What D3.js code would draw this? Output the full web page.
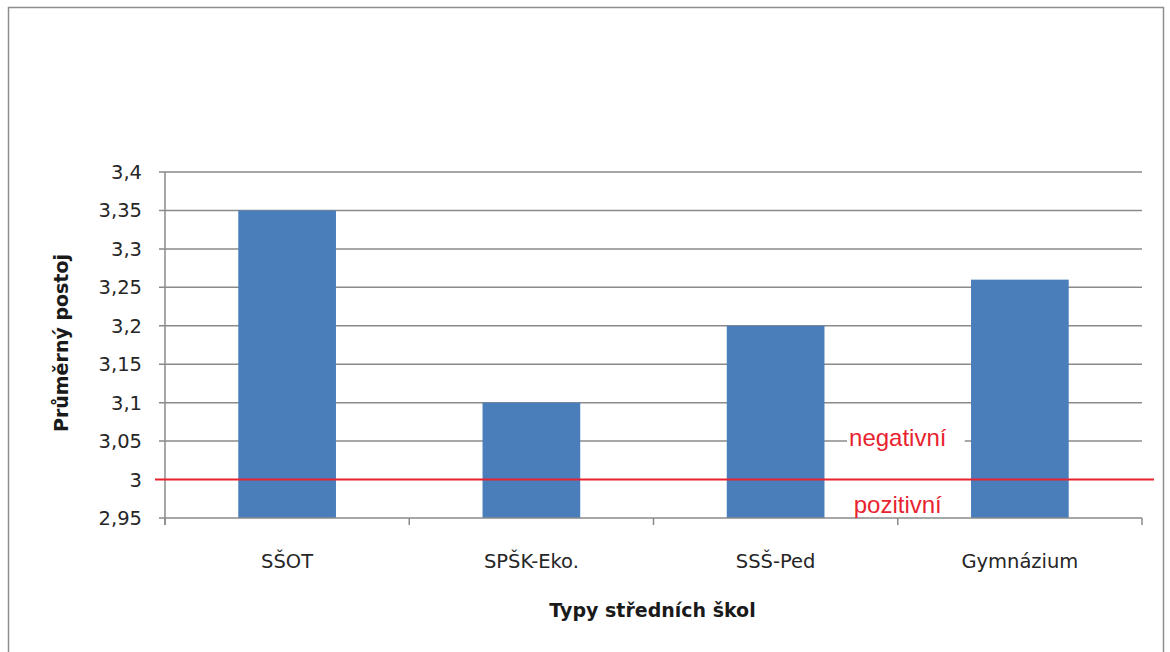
<!DOCTYPE html>
<html>
<head>
<meta charset="utf-8">
<script src="https://cdn.jsdelivr.net/npm/d3@7"></script>
<style>
  body { margin: 0; background: #fff; }
  svg { display: block; }
  .tick-label { font-family: "DejaVu Sans", sans-serif; font-size: 19.5px; fill: #262626; }
  .axis-title { font-family: "DejaVu Sans", sans-serif; font-size: 19px; font-weight: bold; fill: #1a1a1a; }
  .zone-label { font-family: "Liberation Sans", Arial, sans-serif; font-size: 24px; fill: #e8232f; }
</style>
</head>
<body>
<svg id="chart" width="1170" height="652"></svg>
<script>
// school types and their average attitude
const categories = ['SŠOT', 'SPŠK-Eko.', 'SSŠ-Ped', 'Gymnázium'];
const values = [3.35, 3.10, 3.20, 3.26];
const yTicks = [2.95, 3, 3.05, 3.1, 3.15, 3.2, 3.25, 3.3, 3.35, 3.4];
const neutralValue = 3;
const zoneLabels = ['negativní', 'pozitivní'];
const zoneLabelValues = [3.044, 2.957];
const xTitle = 'Typy středních škol';
const yTitle = 'Průměrný postoj';

const svg = d3.select('#chart');

// czech number format, decimal comma
const czech = d3.formatLocale({ decimal: ',', thousands: ' ', grouping: [3], currency: ['', ' Kč'] });
const fmt = czech.format('~g');

// outer frame
svg.append('rect')
  .attr('x', 8.5).attr('y', 7.5)
  .attr('width', 1155).attr('height', 660)
  .attr('fill', 'none')
  .attr('stroke', '#8e8e8e')
  .attr('stroke-width', 1.5);

const plotLeft = 165, plotRight = 1142, plotTop = 172, plotBottom = 518;

const x = d3.scaleBand()
  .domain(categories)
  .range([plotLeft, plotRight])
  .paddingInner(0.6)
  .paddingOuter(0.3);

const y = d3.scaleLinear()
  .domain([2.95, 3.4])
  .range([plotBottom, plotTop]);

const step = x.step();

// gridlines + y ticks
const grid = svg.append('g');
grid.selectAll('line')
  .data(yTicks.filter(d => d !== 2.95 && d !== neutralValue))
  .enter().append('line')
  .attr('x1', plotLeft - 6).attr('x2', plotRight)
  .attr('y1', d => y(d)).attr('y2', d => y(d))
  .attr('stroke', '#8a8a8a')
  .attr('stroke-width', 1.5);

svg.append('g').selectAll('text')
  .data(yTicks)
  .enter().append('text')
  .attr('class', 'tick-label')
  .attr('x', plotLeft - 23)
  .attr('y', d => y(d))
  .attr('dy', '0.36em')
  .attr('text-anchor', 'end')
  .text(d => fmt(d));

// bars
svg.append('g').selectAll('rect')
  .data(values)
  .enter().append('rect')
  .attr('x', (d, i) => x(categories[i]))
  .attr('y', d => y(d))
  .attr('width', x.bandwidth())
  .attr('height', d => y(2.95) - y(d))
  .attr('fill', '#4a7ebb');

// x axis baseline and category boundary ticks
svg.append('line')
  .attr('x1', plotLeft - 6).attr('x2', plotRight)
  .attr('y1', plotBottom).attr('y2', plotBottom)
  .attr('stroke', '#8a8a8a').attr('stroke-width', 1.5);

svg.append('g').selectAll('line')
  .data(d3.range(categories.length + 1))
  .enter().append('line')
  .attr('x1', i => plotLeft + i * step).attr('x2', i => plotLeft + i * step)
  .attr('y1', plotBottom).attr('y2', plotBottom + 7)
  .attr('stroke', '#8a8a8a').attr('stroke-width', 1.5);

// y axis line
svg.append('line')
  .attr('x1', plotLeft).attr('x2', plotLeft)
  .attr('y1', plotTop).attr('y2', plotBottom + 7)
  .attr('stroke', '#8a8a8a').attr('stroke-width', 1.5);

// neutral line at 3
svg.append('line')
  .attr('x1', plotLeft - 10).attr('x2', plotRight + 12)
  .attr('y1', y(neutralValue)).attr('y2', y(neutralValue))
  .attr('stroke', '#e8232f').attr('stroke-width', 2);

// category labels
svg.append('g').selectAll('text')
  .data(categories)
  .enter().append('text')
  .attr('class', 'tick-label')
  .attr('x', d => x(d) + x.bandwidth() / 2)
  .attr('y', 568)
  .attr('text-anchor', 'middle')
  .text(d => d);

// zone labels between the last two bars, each in a white text box
const zoneX = (x(categories[2]) + x.bandwidth() + x(categories[3])) / 2;
const zones = svg.append('g').selectAll('g')
  .data(zoneLabels)
  .enter().append('g');

zones.append('text')
  .attr('class', 'zone-label')
  .attr('x', zoneX)
  .attr('y', (d, i) => y(zoneLabelValues[i]))
  .attr('text-anchor', 'middle')
  .text(d => d);

// only the upper label sits over a gridline
zones.filter((d, i) => i === 0).each(function() {
  const t = d3.select(this).select('text');
  const b = t.node().getBBox();
  d3.select(this).insert('rect', 'text')
    .attr('x', b.x - 2).attr('y', b.y + 2)
    .attr('width', b.width + 20).attr('height', b.height - 4)
    .attr('fill', '#fff');
});

// axis titles
svg.append('text')
  .attr('class', 'axis-title')
  .attr('x', (plotLeft + plotRight) / 2 - 1)
  .attr('y', 617)
  .attr('text-anchor', 'middle')
  .text(xTitle);

svg.append('text')
  .attr('class', 'axis-title')
  .attr('transform', 'translate(68,' + ((plotTop + plotBottom) / 2 - 2) + ') rotate(-90)')
  .attr('text-anchor', 'middle')
  .text(yTitle);
</script>
</body>
</html>
